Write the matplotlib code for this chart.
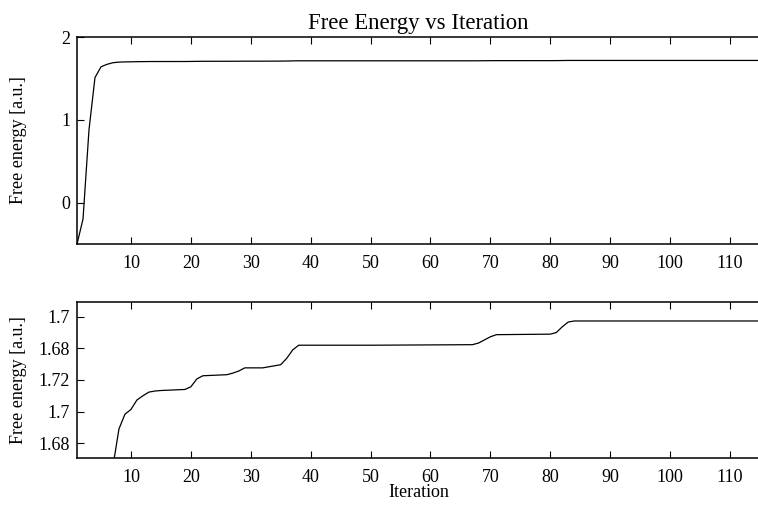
import matplotlib
matplotlib.use("Agg")
import matplotlib.pyplot as plt
from matplotlib.ticker import FixedLocator, FixedFormatter

plt.rcParams['font.family'] = ['Liberation Serif', 'DejaVu Serif']

# Free energy per iteration (points where the curve changes)
iterations = [1, 2, 3, 4, 5, 6, 7, 8, 9, 10, 11, 12, 13, 14, 15, 17, 19, 20,
              21, 22, 24, 26, 27, 28, 29, 32, 35, 36, 37, 38, 50, 67, 68, 69,
              70, 71, 80, 81, 82, 83, 84, 115]
free_energy = [-0.50, -0.20, 0.88, 1.51, 1.64, 1.670, 1.6896, 1.6967, 1.6995,
               1.7004, 1.7022, 1.7030, 1.7037, 1.7039, 1.7040, 1.7041, 1.7042,
               1.7047, 1.7062, 1.7068, 1.7069, 1.7070, 1.7073, 1.7077, 1.7083,
               1.7083, 1.7089, 1.7101, 1.7117, 1.7126, 1.7126, 1.7127, 1.7130,
               1.7136, 1.7142, 1.7146, 1.7147, 1.7150, 1.7161, 1.7170, 1.7172,
               1.7172]

x_ticks = [10, 20, 30, 40, 50, 60, 70, 80, 90, 100, 110]
top_y_ticks = [0, 1, 2]
zoom_y_ticks = [1.694, 1.700, 1.706, 1.712, 1.718]
zoom_y_labels = ['1.68', '1.7', '1.72', '1.68', '1.7']

fig = plt.figure(figsize=(7.58, 5.07), dpi=100)
ax1 = fig.add_axes([0.1016, 0.5187, 0.901, 0.4083])
ax2 = fig.add_axes([0.1016, 0.0976, 0.901, 0.3067])

for ax in (ax1, ax2):
    ax.plot(iterations, free_energy, color='black', lw=0.9)
    ax.set_xlim(1, 115)
    ax.set_xticks(x_ticks)
    ax.tick_params(direction='in', top=True, right=False, length=5,
                   width=0.8, labelsize=13)
    ax.tick_params(axis='x', pad=8)
    ax.tick_params(axis='y', pad=5)
    for s in ax.spines.values():
        s.set_linewidth(1.1)
    ax.spines['right'].set_visible(False)
    ax.set_ylabel('Free energy [a.u.]', fontsize=13)

ax1.set_ylim(-0.5, 2)
ax1.set_yticks(top_y_ticks)
ax1.set_title('Free Energy vs Iteration', fontsize=16.4, pad=6)
ax1.yaxis.set_label_coords(-0.073, 0.5)

ax2.set_ylim(1.69128, 1.7208)
ax2.yaxis.set_major_locator(FixedLocator(zoom_y_ticks))
ax2.yaxis.set_major_formatter(FixedFormatter(zoom_y_labels))
ax2.set_xlabel('Iteration', fontsize=13, labelpad=-1)
ax2.yaxis.set_label_coords(-0.073, 0.5)

fig.savefig('out.png', dpi=100)
